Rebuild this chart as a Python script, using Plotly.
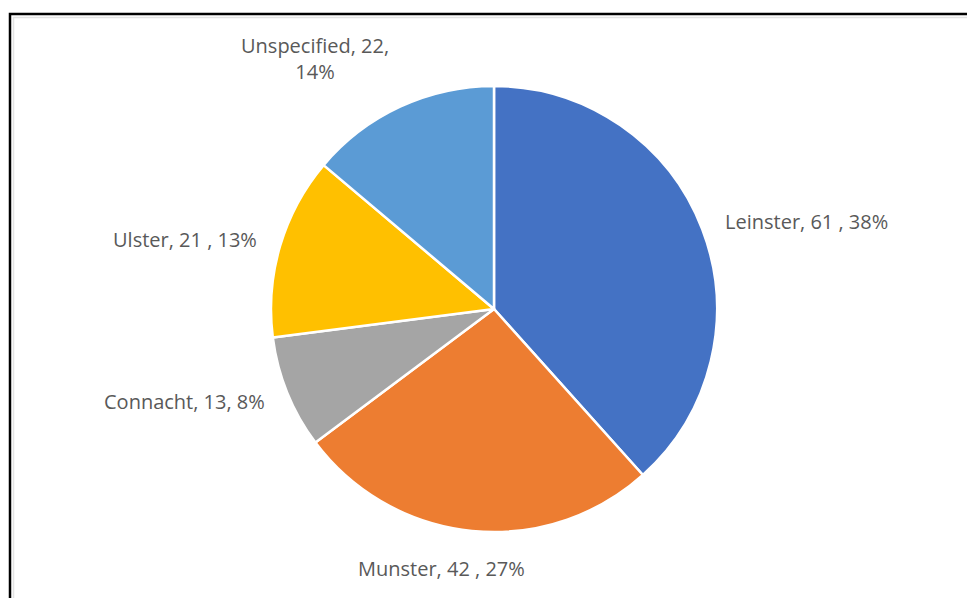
import math
import plotly.graph_objects as go

categories = ["Leinster", "Munster", "Connacht", "Ulster", "Unspecified"]
values = [61, 42, 13, 21, 22]
pct_labels = ["38%", "27%", "8%", "13%", "14%"]
label_texts = ["Leinster, 61 , 38%", "Munster, 42 , 27%", "Connacht, 13, 8%",
               "Ulster, 21 , 13%", "Unspecified, 22,<br>14%"]
colors = ["#4472C4", "#ED7D31", "#A5A5A5", "#FFC000", "#5B9BD5"]

W, H = 967, 598
cx, cy, r = 494, 309, 223

fig = go.Figure(go.Pie(
    labels=categories, values=values, sort=False, direction="clockwise",
    rotation=0, textinfo="none", hoverinfo="label+value+percent",
    marker=dict(colors=colors, line=dict(color="white", width=2.5)),
    domain=dict(x=[(cx - r) / W, (cx + r) / W], y=[1 - (cy + r) / H, 1 - (cy - r) / H]),
    showlegend=False,
))

total = sum(values)
start = 0.0
annotations = []
for v, txt in zip(values, label_texts):
    frac = v / total * 360
    mid = math.radians(start + frac / 2)
    start += frac
    s, c = math.sin(mid), math.cos(mid)
    px = cx + 1.1 * r * s
    py = cy - 1.1 * r * c
    xa = "left" if s > 0.3 else ("right" if s < -0.3 else "center")
    ya = "bottom" if c > 0.5 else ("top" if c < -0.5 else "middle")
    if xa == "center":
        px -= 28
    annotations.append(dict(
        x=px / W, y=1 - py / H, xref="paper", yref="paper", text=txt,
        showarrow=False, xanchor=xa, yanchor=ya, align="center",
        font=dict(family="Open Sans", size=20, color="#595959"),
    ))

shapes = [
    dict(type="rect", xref="paper", yref="paper", x0=10 / W, y0=1 - 14 / H,
         x1=1.05, y1=-0.05, line=dict(color="black", width=2.5)),
    dict(type="rect", xref="paper", yref="paper", x0=13.5 / W, y0=1 - 17.5 / H,
         x1=1.05, y1=-0.05, line=dict(color="#e3e3e3", width=1.5)),
]

fig.update_layout(
    width=W, height=H, margin=dict(l=0, r=0, t=0, b=0),
    paper_bgcolor="white", plot_bgcolor="white",
    annotations=annotations, shapes=shapes,
)

fig.write_html("out.html")
